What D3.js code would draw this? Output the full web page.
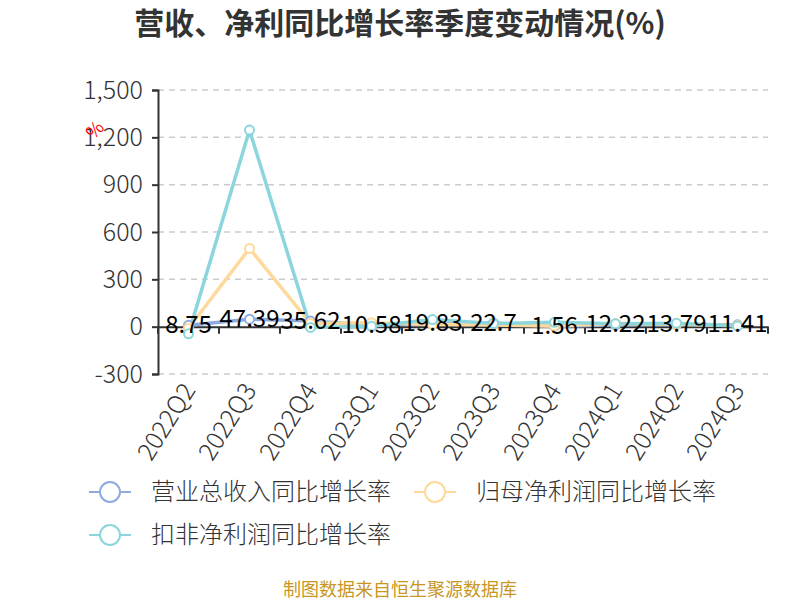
<!DOCTYPE html>
<html><head><meta charset="utf-8">
<script src="https://cdn.jsdelivr.net/npm/d3@7"></script>
<style>body{margin:0;background:#fff;}svg{display:block;}</style>
</head><body>
<svg id="c" width="800" height="600"></svg>
<script>
const categories = ["2022Q2","2022Q3","2022Q4","2023Q1","2023Q2","2023Q3","2023Q4","2024Q1","2024Q2","2024Q3"];
const revenueGrowth = [8.75, 47.39, 35.62, 10.58, 19.83, 22.7, 1.56, 12.22, 13.79, 11.41];
const netProfitGrowth = [-10, 496, 20, 25, 15, 10, 5, 20, 15, 8];
const deductedProfitGrowth = [-45, 1246, -5, 2, 45, 20, 28, 18, 22, 4];
const yTicks = [-300, 0, 300, 600, 900, 1200, 1500];
const seriesNames = ["营业总收入同比增长率", "归母净利润同比增长率", "扣非净利润同比增长率"];
const colors = ["#8eabdf", "#ffd89c", "#8bd6dc"];

const font = "'Noto Sans CJK SC', 'Noto Sans', sans-serif";
const svg = d3.select("#c");
const mLeft = 158, mRight = 768, mTop = 90, mBottom = 374;

const x = d3.scaleBand().domain(categories).range([mLeft, mRight]);
const y = d3.scaleLinear().domain([-300, 1500]).range([mBottom, mTop]);
const fmt = d => d3.format(",")(d).replace("\u2212", "-");

// title
svg.append("text").attr("x", 400).attr("y", 34).attr("text-anchor", "middle")
  .attr("font-family", font).attr("font-size", 30).attr("font-weight", "bold")
  .attr("fill", "#333").text("营收、净利同比增长率季度变动情况(%)");

// grid
svg.append("g").selectAll("line").data(yTicks.filter(d => d !== 0)).join("line")
  .attr("x1", mLeft).attr("x2", mRight).attr("y1", d => y(d)).attr("y2", d => y(d))
  .attr("stroke", "#cccccc").attr("stroke-width", 1.5).attr("stroke-dasharray", "6,5");

// y axis
const yAxis = svg.append("g").attr("transform", `translate(${mLeft},0)`)
  .call(d3.axisLeft(y).tickValues(yTicks).tickFormat(fmt).tickSize(6).tickPadding(9));
yAxis.select(".domain").attr("stroke", "#333").attr("stroke-width", 2);
yAxis.selectAll(".tick line").attr("stroke", "#333").attr("stroke-width", 2);
yAxis.selectAll("text").attr("font-family", font).attr("font-size", 25).attr("font-weight", 300).attr("fill", "#333");

// x axis at zero
const xAxis = svg.append("g").attr("transform", `translate(0,${y(0)})`)
  .call(d3.axisBottom(x).tickSize(0).tickPadding(0).tickFormat(""));
xAxis.select(".domain").attr("stroke", "#333").attr("stroke-width", 2);
const bounds = categories.map(c => x(c)).concat([mRight]);
svg.append("g").selectAll("line").data(bounds).join("line")
  .attr("x1", d => d).attr("x2", d => d).attr("y1", y(0)).attr("y2", y(0) + 7)
  .attr("stroke", "#333").attr("stroke-width", 2);

// x labels rotated
svg.append("g").selectAll("text").data(categories).join("text")
  .attr("transform", d => `translate(${x(d) + x.bandwidth() / 2 + 2},${y(0) + 60}) rotate(-58)`)
  .attr("text-anchor", "end").attr("dominant-baseline", "middle")
  .attr("font-family", font).attr("font-size", 25).attr("font-weight", 300).attr("fill", "#333").text(d => d);

// red % marker
svg.append("text").attr("transform", "translate(96,131) rotate(-45)")
  .attr("text-anchor", "middle").attr("dominant-baseline", "middle")
  .attr("font-family", font).attr("font-size", 18).attr("fill", "#ff0000").text("%");

const allSeries = [revenueGrowth, netProfitGrowth, deductedProfitGrowth];
const cx = (d, i) => x(categories[i]) + x.bandwidth() / 2;
const line = d3.line().x(cx).y(d => y(d));

allSeries.forEach((s, k) => {
  svg.append("path").datum(s).attr("d", line).attr("fill", "none")
    .attr("stroke", colors[k]).attr("stroke-width", 3.5).attr("stroke-linejoin", "round");
});
allSeries.forEach((s, k) => {
  svg.append("g").selectAll("circle").data(s).join("circle")
    .attr("cx", cx).attr("cy", d => y(d)).attr("r", 4.5)
    .attr("fill", "#fff").attr("stroke", colors[k]).attr("stroke-width", 2);
});

// labels for revenue series
svg.append("g").selectAll("text").data(revenueGrowth).join("text")
  .attr("x", cx).attr("y", d => y(d) + 1).attr("text-anchor", "middle").attr("dominant-baseline", "middle")
  .attr("font-family", font).attr("font-size", 24).attr("fill", "#000").text(d => d);

// legend
const legendPos = [[89, 492], [414, 492], [89, 535]];
seriesNames.forEach((n, k) => {
  const [lx, ly] = legendPos[k];
  const g = svg.append("g");
  g.append("line").attr("x1", lx).attr("x2", lx + 42).attr("y1", ly).attr("y2", ly)
    .attr("stroke", colors[k]).attr("stroke-width", 2);
  g.append("circle").attr("cx", lx + 21).attr("cy", ly).attr("r", 10)
    .attr("fill", "#fff").attr("stroke", colors[k]).attr("stroke-width", 2);
  g.append("text").attr("x", lx + 62).attr("y", ly + 1).attr("dominant-baseline", "middle")
    .attr("font-family", font).attr("font-size", 24).attr("font-weight", 300).attr("fill", "#333").text(n);
});

// footer
svg.append("text").attr("x", 400).attr("y", 596).attr("text-anchor", "middle")
  .attr("font-family", font).attr("font-size", 18).attr("fill", "#c9961f").text("制图数据来自恒生聚源数据库");
</script>
</body></html>
